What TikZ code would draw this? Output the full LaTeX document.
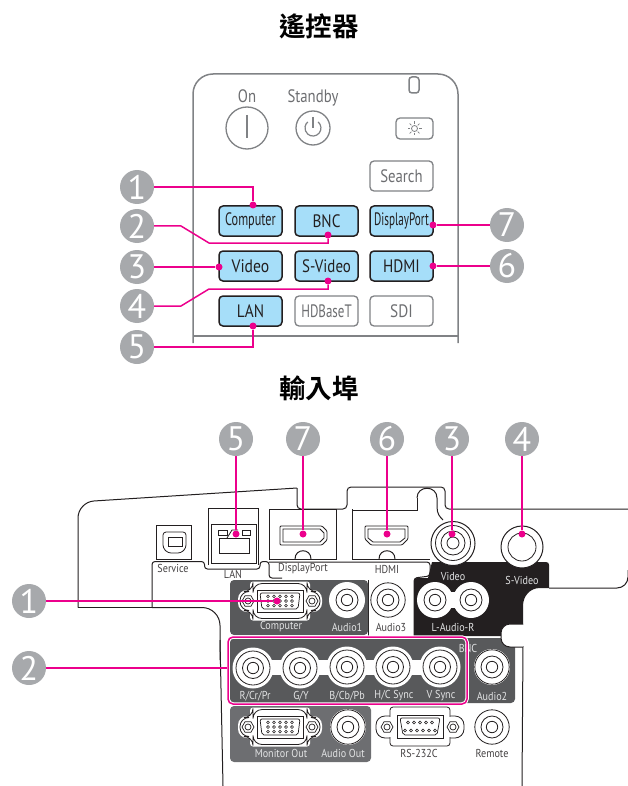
\documentclass[tikz,border=0pt]{standalone}
\usepackage{fontspec}
\usepackage{graphicx}
\setmainfont{PT Sans}
\newfontfamily\cjk[BoldFont={Noto Sans CJK TC Bold}]{Noto Sans CJK TC}
\definecolor{pinkc}{HTML}{EC008C}
\definecolor{badgec}{HTML}{A7A9AC}
\definecolor{remc}{HTML}{808285}
\definecolor{blued}{HTML}{A6DEF9}
\definecolor{inkc}{HTML}{231F20}
\definecolor{panelc}{HTML}{58595B}
\definecolor{panelb}{HTML}{6D6E71}
\definecolor{lblc}{HTML}{E2E3E4}
\definecolor{txtg}{HTML}{6D6E71}
\tikzset{
  x=1pt,y=-1pt,
  badge/.style={circle,fill=badgec,minimum size=34pt,inner sep=0pt,text=white,font=\fontsize{34}{34}\selectfont},
  pdot/.style={circle,fill=pinkc,minimum size=7pt,inner sep=0pt},
  pline/.style={draw=pinkc,line width=1.5pt},
  bluebtn/.style={draw=inkc,fill=blued,line width=1.5pt,rounded corners=4pt,minimum width=63pt,minimum height=30pt,inner sep=0pt,text=inkc,font=\fontsize{18}{18}\selectfont},
  graybtn/.style={draw=remc,fill=white,line width=1.3pt,rounded corners=4pt,minimum width=63pt,minimum height=30pt,inner sep=0pt,text=txtg,font=\fontsize{18}{18}\selectfont},
  remline/.style={draw=remc,line width=1.5pt},
  remtxt/.style={text=txtg,inner sep=0pt,font=\fontsize{18}{18}\selectfont},
  body/.style={draw=inkc,line width=1pt},
  portl/.style={draw=inkc,line width=.8pt},
  lblw/.style={inner sep=0pt,text=lblc,font=\fontsize{11.5}{11.5}\selectfont},
  lblk/.style={inner sep=0pt,text=inkc!85,font=\fontsize{11.5}{11.5}\selectfont},
  titlet/.style={inner sep=0pt,text=black,font=\cjk\bfseries\fontsize{26.5}{26.5}\selectfont},
}
\newcommand{\rca}[2]{% BNC-size jack
  \fill[white] (#1,#2) circle[radius=20.5];
  \draw[portl] (#1,#2) circle[radius=17];
  \draw[portl] (#1,#2) circle[radius=10.5];
  \draw[portl] (#1,#2) circle[radius=5.7];
}
\newcommand{\aud}[2]{% audio jack, no outer ring
  \fill[white] (#1,#2) circle[radius=18];
  \draw[portl] (#1,#2) circle[radius=11];
  \draw[portl] (#1,#2) circle[radius=5.7];
}
\newcommand{\audo}[2]{% audio jack, outer ring
  \aud{#1}{#2}
  \draw[portl] (#1,#2) circle[radius=17.2];
}
\newcommand{\hexn}[2]{%
  \draw[draw=inkc,line width=.7pt,line join=round] (#1-6,#2) -- (#1-3,#2-5.2) -- (#1+3,#2-5.2) -- (#1+6,#2) -- (#1+3,#2+5.2) -- (#1-3,#2+5.2) -- cycle;
  \draw[draw=inkc,line width=.7pt] (#1,#2) circle[radius=3];
}
\newcommand{\vga}[2]{% x y
  \fill[white,rounded corners=9pt] (#1-42,#2-11) rectangle (#1+42,#2+11);
  \fill[white,rounded corners=3pt] (#1-30,#2-19.5) rectangle (#1+30,#2+19.5);
  \draw[portl,rounded corners=9pt] (#1-40,#2-9.5) -- (#1-27,#2-9.5) -- (#1-27,#2-17.5) -- (#1+27,#2-17.5) -- (#1+27,#2-9.5) -- (#1+40,#2-9.5) -- (#1+40,#2+9.5) -- (#1+27,#2+9.5) -- (#1+27,#2+17.5) -- (#1-27,#2+17.5) -- (#1-27,#2+9.5) -- (#1-40,#2+9.5) -- cycle;
  \hexn{#1-32}{#2}\hexn{#1+32}{#2}
  \draw[portl,fill=white] (#1-23,#2-11) rectangle (#1+23,#2+11);
  \draw[draw=inkc,line width=.7pt,rounded corners=2pt] (#1-20,#2-8) -- (#1+20,#2-8) -- (#1+18,#2+8) -- (#1-18,#2+8) -- cycle;
  \foreach \i in {-2,...,2}{
    \draw[line width=.55pt,draw=inkc] (#1+\i*6,#2-4.6) circle[radius=1.4];
    \draw[line width=.55pt,draw=inkc] (#1+\i*6,#2) circle[radius=1.4];
    \draw[line width=.55pt,draw=inkc] (#1+\i*6,#2+4.6) circle[radius=1.4];
  }
}
\begin{document}
\begin{tikzpicture}
\useasboundingbox (0,0) rectangle (628,786);
\node[titlet] (t1) at (319,26) {遙控器};
\node[titlet] (t2) at (319,388) {輸入埠};
% ---------- remote
\draw[remline,rounded corners=20pt] (193,343) -- (193,74) -- (458,74) -- (458,343);
\draw[remline] (193,336) -- (458,336);
\draw[remline,rounded corners=3pt] (409,77) rectangle (419,93);
\node[circle,draw=remc,line width=1.3pt,minimum size=42pt,inner sep=0pt] (on) at (247,128) {};
\draw[remc,line width=2pt] (247,115) -- (247,138);
\node[remtxt] (ont) at (247,96) {\scalebox{.82}[1]{On}};
\node[circle,draw=remc,line width=1.3pt,minimum size=34pt,inner sep=0pt] (stb) at (313,128) {};
\draw[remc,line width=1.2pt] (318.1,121.9) arc[start angle=-50,end angle=230,radius=8];
\draw[remc,line width=1.2pt] (313,117) -- (313,128);
\node[remtxt] (stbt) at (313,98) {\scalebox{.82}[1]{Standby}};
\node[draw=remc,line width=1.3pt,rounded corners=4pt,minimum width=37pt,minimum height=21pt,inner sep=0pt] (lgt) at (414.5,128.5) {};
\draw[remc,line width=.8pt] (414.5,128.5) circle[radius=3];
\foreach \a in {0,45,...,315}{\draw[remc,line width=.7pt] (414.5,128.5) ++(\a:4.5) -- ++(\a:2.5);}
\node[graybtn] (srch) at (401.5,176) {\scalebox{.82}[1]{Search}};
\node[bluebtn] (bcomp) at (250.5,221) {\scalebox{.68}[1]{Computer}};
\node[bluebtn] (bbnc) at (326.5,221) {\scalebox{.85}[1]{BNC}};
\node[bluebtn] (bdp) at (401.5,221) {\scalebox{.62}[1]{DisplayPort}};
\node[bluebtn] (bvid) at (250.5,266) {\scalebox{.87}[1]{Video}};
\node[bluebtn] (bsv) at (326.5,266) {\scalebox{.83}[1]{S-Video}};
\node[bluebtn] (bhdmi) at (401.5,266) {\scalebox{.85}[1]{HDMI}};
\node[bluebtn] (blan) at (250.5,311) {\scalebox{.85}[1]{LAN}};
\node[graybtn] (bhdb) at (326.5,311) {\scalebox{.72}[1]{HDBaseT}};
\node[graybtn] (bsdi) at (401.5,311) {\scalebox{.85}[1]{SDI}};
\node[badge] (r1) at (137,187) {1};
\node[badge] (r2) at (137,226) {2};
\node[badge] (r3) at (137,267) {3};
\node[badge] (r4) at (137,306) {4};
\node[badge] (r5) at (137,347) {5};
\node[badge] (r7) at (507,225) {7};
\node[badge] (r6) at (507,266) {6};
\node[pdot] (rd1) at (253,205) {};
\node[pdot] (rd2) at (328,235) {};
\node[pdot] (rd3) at (219,267) {};
\node[pdot] (rd4) at (328,281) {};
\node[pdot] (rd5) at (253,326) {};
\node[pdot] (rd7) at (433,225) {};
\node[pdot] (rd6) at (433,266) {};
\coordinate (k2a) at (181,226); \coordinate (k2b) at (209,243); \coordinate (k2c) at (328,243);
\coordinate (k4a) at (181,306); \coordinate (k4b) at (209,289); \coordinate (k4c) at (328,289);
\draw[pline] (r1.east) -| (rd1);
\draw[pline] (r2.east) -- (k2a) -- (k2b) -- (k2c) -- (rd2);
\draw[pline] (r3.east) -- (rd3);
\draw[pline] (r4.east) -- (k4a) -- (k4b) -- (k4c) -- (rd4);
\draw[pline] (r5.east) -| (rd5);
\draw[pline] (r7.west) -- (rd7);
\draw[pline] (r6.west) -- (rd6);
% ---------- projector body lines
\draw[body,rounded corners=16pt] (297,488) -- (78,502) -- (78,607.5);
\draw[body,rounded corners=4pt] (297,488) -- (297,509) -- (347,509) -- (347,487) -- (445,487) -- (445,509) -- (628,509);
\draw[body] (78,607.5) -- (152,607.5);
\draw[body,rounded corners=18pt] (152,607.5) -- (220,607.5) -- (220,660);
\draw[body] (220,640) -- (223,786);
\draw[body] (523,645) -- (522,786);
% service strip
\draw[body,rounded corners=3pt] (152,607.5) -- (152,561.5) -- (204.5,561.5) -- (204.5,569) -- (260,569) -- (260,561.5) -- (269,561.5) -- (269,578) -- (282,578);
\draw[body,rounded corners=3pt] (269,562) -- (430,562) -- (430,576) -- (414,578) -- (414,640);
\draw[body,rounded corners=4pt] (368,580) -- (368,640);
% port blocks
\draw[body] (208,565) -- (208,508) -- (258,508) -- (258,565);
\draw[body] (269,559) -- (269,509) -- (336,509) -- (336,559) -- cycle;
\draw[body] (352,509) -- (352,559) -- (430,559);
\draw[body] (352,510) -- (417,510) -- (417,498);
\draw[body] (417,498) .. controls (417,485) and (437,485) .. (437,498) -- (437,507) .. controls (437,514) and (440,517) .. (443,520);
\fill[white] (295,559) .. controls (295,548) and (311,548) .. (311,559) -- cycle;
\draw[body] (295,559) .. controls (295,548) and (311,548) .. (311,559);
\fill[white] (379,559) .. controls (379,548) and (395,548) .. (395,559) -- cycle;
\draw[body] (379,559) .. controls (379,548) and (395,548) .. (395,559);
% right lower edge
\draw[body,rounded corners=11pt] (549,588) -- (628,588) -- (628,570);
% Service
\draw[draw=inkc,line width=1pt] (156,525) rectangle (191,559);
\draw[portl,rounded corners=3pt] (163,532) -- (186,532) -- (186,548) -- (181,553) -- (168,553) -- (163,548) -- cycle;
\draw[portl] (168,537) rectangle (182,546);
% LAN
\draw[portl] (211,524) rectangle (256,563);
\draw[portl] (219,538) rectangle (249,553);
\draw[portl] (218,530) rectangle (227,535);
\draw[portl] (242,530) rectangle (250,535);
\draw[portl] (227,538) -- (232,530) -- (238,530);
% DP
\draw[portl,rounded corners=1pt] (280,526) -- (322,526) -- (327,531) -- (327,540) -- (322,545) -- (280,545) -- cycle;
\draw[portl] (283,529) -- (320,529) -- (324,533) -- (324,538) -- (320,542) -- (283,542) -- cycle;
% HDMI
\draw[portl,rounded corners=1pt] (365,526) -- (408,526) -- (408,539) -- (402,545) -- (371,545) -- (365,539) -- cycle;
\draw[portl] (368,529) -- (405,529) -- (405,538) -- (400,542) -- (373,542) -- (368,538) -- cycle;
% panels
\fill[panelc,rounded corners=4pt] (230,580) rectangle (368,635);
\fill[inkc] (414,636) -- (414,581) .. controls (414,579) and (415,578) .. (417,578) -- (428,578) -- (432,562) -- (546,562) .. controls (548,562) and (549,563) .. (549,565) -- (549,588) -- (540,588) .. controls (530,588) and (523,596) .. (523,606) -- (523,636) -- cycle;
\fill[panelc,rounded corners=4pt] (230,638) rectangle (515,703);
\fill[panelb,rounded corners=4pt] (230,706) rectangle (371,762);
\draw[body,fill=white,rounded corners=9pt] (523,624) -- (501,624) -- (501,647) -- (523,647);
\fill[white] (523,625) rectangle (524,646);
% ports
\vga{280}{601}
\vga{280}{727}
\draw[portl,fill=white,rounded corners=9pt] (376,716) rectangle (464,738);
\draw[portl,fill=white,rounded corners=3pt] (390,707) rectangle (450,746);
\fill[white] (389,717) rectangle (451,737);
\hexn{387}{727}\hexn{453}{727}
\draw[portl,fill=white] (397,715) rectangle (443,738);
\draw[draw=inkc,line width=.7pt,rounded corners=2pt] (400,718) -- (440,718) -- (437,735) -- (403,735) -- cycle;
\foreach \i in {-2,...,2}{\draw[line width=.55pt,draw=inkc] (420+\i*6,722.5) circle[radius=1.4];}
\foreach \i in {-2.5,-1.5,...,2.5}{\draw[line width=.55pt,draw=inkc] (420+\i*6,730.5) circle[radius=1.4];}
\aud{347}{600}
\audo{388}{600}
\fill[white] (440,592) rectangle (467,608);
\aud{435}{600}
\aud{471}{600}
\fill[white] (253,660) rectangle (440,675);
\rca{253}{668}
\rca{300}{668}
\rca{347}{667}
\rca{393}{667}
\rca{440}{667}
\audo{492}{667}
\audo{348}{727}
\audo{492}{727}
\draw[body,fill=white] (453,543.5) circle[radius=22];
\draw[portl] (453,543) circle[radius=17.5];
\draw[portl] (453,543) circle[radius=12];
\draw[portl] (453,543) circle[radius=6];
\draw[body,fill=white] (522,547) circle[radius=21];
\draw[portl] (522,547) circle[radius=14];
% labels
\node[lblk] (lservice) at (173,568) {\scalebox{.88}[1]{Service}};
\node[lblk] (llan) at (233,574) {\scalebox{.88}[1]{LAN}};
\node[lblk] (ldp) at (303,569) {\scalebox{.88}[1]{DisplayPort}};
\node[lblk] (lhdmi) at (387,569) {\scalebox{.88}[1]{HDMI}};
\node[lblw] (lvid) at (453,576) {\scalebox{.88}[1]{Video}};
\node[lblw] (lsv) at (522,580) {\scalebox{.88}[1]{S-Video}};
\node[lblw] (lcomp) at (281,627) {\scalebox{.88}[1]{Computer}};
\node[lblw] (la1) at (347,627) {\scalebox{.88}[1]{Audio1}};
\node[lblk] (la3) at (391,627) {\scalebox{.88}[1]{Audio3}};
\node[lblw] (llr) at (453,627) {\scalebox{.88}[1]{L-Audio-R}};
\node[lblw] (lr) at (255,696) {\scalebox{.88}[1]{R/Cr/Pr}};
\node[lblw] (lg) at (301,696) {\scalebox{.88}[1]{G/Y}};
\node[lblw] (lb) at (347,696) {\scalebox{.88}[1]{B/Cb/Pb}};
\node[lblw] (lh) at (394,696) {\scalebox{.88}[1]{H/C Sync}};
\node[lblw] (lv) at (441,696) {\scalebox{.88}[1]{V Sync}};
\node[lblw] (la2) at (492,696) {\scalebox{.88}[1]{Audio2}};
\node[lblw] (lbnc) at (468,648) {\scalebox{.88}[1]{BNC}};
\node[lblw] (lmo) at (281,753) {\scalebox{.88}[1]{Monitor Out}};
\node[lblw] (lao) at (343,753) {\scalebox{.88}[1]{Audio Out}};
\node[lblk] (lrs) at (419,753) {\scalebox{.88}[1]{RS-232C}};
\node[lblk] (lrm) at (492,753) {\scalebox{.88}[1]{Remote}};
% pink frame
\draw[white,line width=3.5pt,rounded corners=5pt] (228,637) rectangle (467,704);
\node[draw=pinkc,line width=1.5pt,rounded corners=5pt,minimum width=239pt,minimum height=67pt,inner sep=0pt] (bncbox) at (347.5,670.5) {};
% badges and connectors
\node[badge] (p5) at (236,439) {5};
\node[badge] (p7) at (303,439) {7};
\node[badge] (p6) at (387,439) {6};
\node[badge] (p3) at (452,439) {3};
\node[badge] (p4) at (522,439) {4};
\node[badge] (p1) at (29,601) {1};
\node[badge] (p2) at (29,668) {2};
\node[pdot] (d5) at (236,534) {};
\node[pdot] (d7) at (303,534) {};
\node[pdot] (d6) at (387,534) {};
\node[pdot] (d3) at (452,534) {};
\node[pdot] (d4) at (522,534) {};
\node[pdot] (d1) at (277,601) {};
\draw[pline] (p5.south) -- (d5);
\draw[pline] (p7.south) -- (d7);
\draw[pline] (p6.south) -- (d6);
\draw[pline] (p3.south) -- (d3);
\draw[pline] (p4.south) -- (d4);
\draw[pline] (p1.east) -- (d1);
\draw[pline] (p2.east) -- (p2.east -| bncbox.west);
\end{tikzpicture}
\end{document}
